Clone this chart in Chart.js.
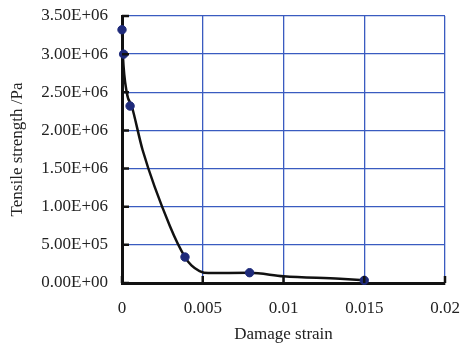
<!DOCTYPE html>
<html>
<head>
<meta charset="utf-8">
<script src="https://cdn.jsdelivr.net/npm/chart.js@4.4.0/dist/chart.umd.min.js"></script>
<style>
html,body{margin:0;padding:0;background:#fff;}
#wrap{width:461px;height:345px;}
</style>
</head>
<body>
<div id="wrap"><canvas id="c" width="461" height="345"></canvas></div>
<script>
// Measured points (markers)
const pointStrain = [0, 0.0001, 0.0005, 0.0039, 0.0079, 0.015];
const pointStress = [3.32e6, 3.0e6, 2.32e6, 0.34e6, 0.135e6, 0.035e6];
// Fitted curve
const curveStrain = [0, 0.00005, 0.0003, 0.0006, 0.00128, 0.00297, 0.0039, 0.0043, 0.0048, 0.00534, 0.0079, 0.01, 0.0135, 0.015];
const curveStress = [3.32e6, 3.0e6, 2.49e6, 2.32e6, 1.74e6, 0.744e6, 0.34e6, 0.23e6, 0.157e6, 0.13e6, 0.133e6, 0.088e6, 0.055e6, 0.035e6];
const xTickLabels = ['0', '0.005', '0.01', '0.015', '0.02'];
const yTickLabels = ['0.00E+00', '5.00E+05', '1.00E+06', '1.50E+06', '2.00E+06', '2.50E+06', '3.00E+06', '3.50E+06'];
const xTitle = 'Damage strain';
const yTitle = 'Tensile strength /Pa';

const FONT = "'Liberation Serif', 'Times New Roman', serif";
const GRID = '#3a5bc0';

const innerTicks = {
  id: 'innerTicks',
  afterDraw(chart) {
    const ctx = chart.ctx;
    const xs = chart.scales.x, ys = chart.scales.y;
    ctx.save();
    ctx.strokeStyle = '#111';
    ctx.lineWidth = 2.5;
    ctx.beginPath();
    ys.ticks.forEach((t, i) => {
      const p = ys.getPixelForTick(i);
      ctx.moveTo(xs.left, p);
      ctx.lineTo(xs.left + 7, p);
    });
    xs.ticks.forEach((t, i) => {
      const p = xs.getPixelForTick(i);
      ctx.moveTo(p, ys.bottom);
      ctx.lineTo(p, ys.bottom - 7);
    });
    ctx.stroke();
    ctx.restore();
  }
};

new Chart(document.getElementById('c'), {
  type: 'scatter',
  data: {
    datasets: [
      {
        type: 'line',
        data: curveStrain.map((x, i) => ({x, y: curveStress[i]})),
        borderColor: '#111',
        borderWidth: 2.5,
        pointRadius: 0,
        fill: false,
        clip: false,
        cubicInterpolationMode: 'monotone',
        order: 2
      },
      {
        type: 'scatter',
        data: pointStrain.map((x, i) => ({x, y: pointStress[i]})),
        backgroundColor: '#1e2a7a',
        borderColor: '#1e2a7a',
        pointRadius: 4.2,
        clip: false,
        order: 1
      }
    ]
  },
  options: {
    responsive: false,
    animation: false,
    devicePixelRatio: 1,
    layout: {padding: {left: 0, top: 16, right: 16, bottom: 0}},
    plugins: {legend: {display: false}, tooltip: {enabled: false}},
    scales: {
      x: {
        type: 'linear',
        min: 0, max: 0.02,
        afterFit(s) { s.height = 62; s.paddingLeft = 0; s.paddingRight = 0; },
        ticks: {
          stepSize: 0.005,
          padding: 15,
          color: '#222',
          font: {family: FONT, size: 17},
          callback: (v, i) => xTickLabels[i]
        },
        grid: {color: GRID, lineWidth: 1.3, drawTicks: false},
        border: {color: '#111', width: 3},
        title: {display: true, text: xTitle, color: '#222', font: {family: FONT, size: 17}, padding: {top: 0, bottom: 0}}
      },
      y: {
        type: 'linear',
        min: 0, max: 3.5e6,
        afterFit(s) { s.width = 122; s.paddingTop = 0; s.paddingBottom = 0; },
        ticks: {
          stepSize: 5e5,
          padding: 14,
          color: '#222',
          font: {family: FONT, size: 17},
          callback: (v, i) => yTickLabels[i]
        },
        grid: {color: GRID, lineWidth: 1.3, drawTicks: false},
        border: {color: '#111', width: 3},
        title: {display: true, text: yTitle, color: '#222', font: {family: FONT, size: 17}, padding: {top: 7, bottom: 0}}
      }
    }
  },
  plugins: [innerTicks]
});
</script>
</body>
</html>
